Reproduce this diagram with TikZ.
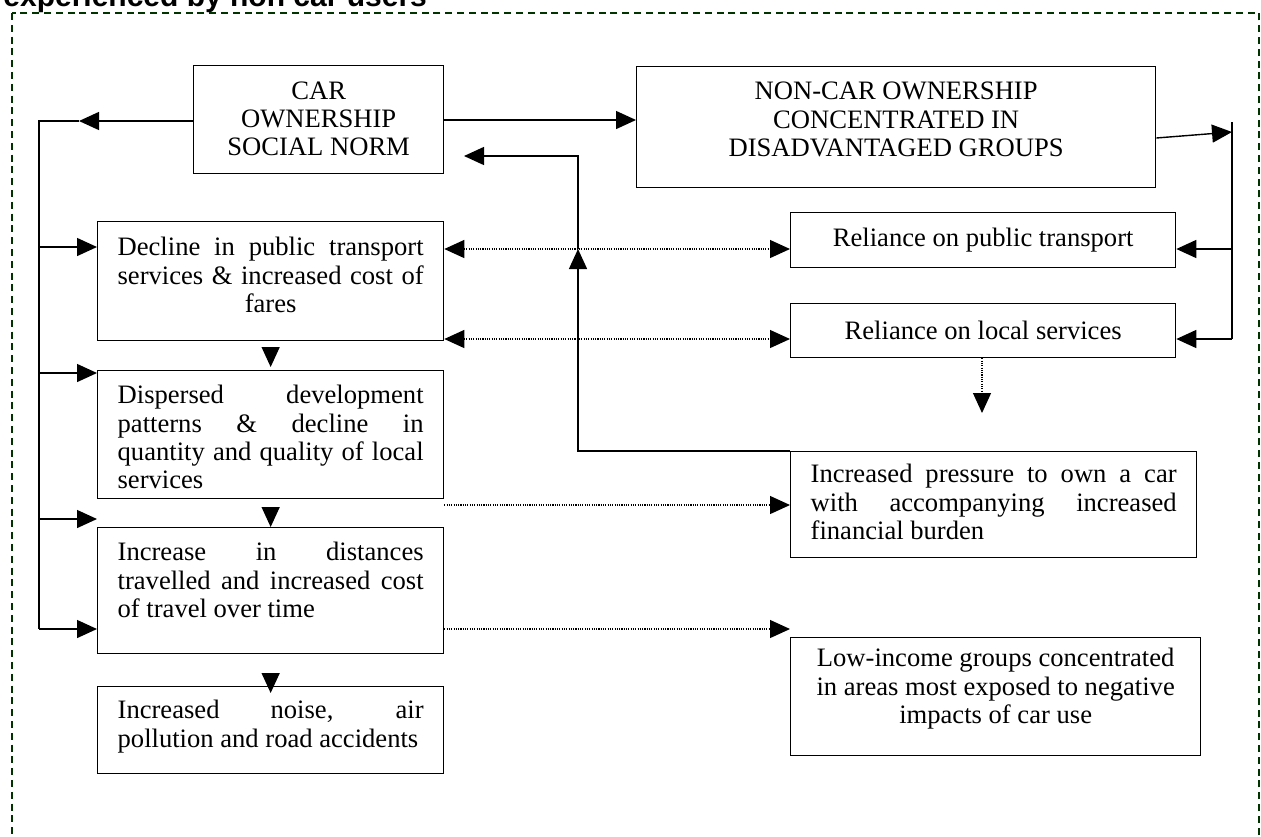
\documentclass[tikz,border=0pt]{standalone}
\usepackage{fontspec}
\setmainfont{Liberation Serif}
\newfontfamily\headfont{Liberation Sans}
\usetikzlibrary{arrows.meta}
\definecolor{framegreen}{HTML}{003300}

% box body: height, width, top gap, lines
\newcommand{\inbox}[4]{\parbox[c][#1][t]{#2}{\vspace*{#3}#4}}
\newcommand{\jline}[1]{\makebox[\linewidth][s]{\strut #1}\par}
\newcommand{\lline}[1]{\strut #1\par}
\newcommand{\ctr}[1]{\makebox[\linewidth][c]{\strut #1}\par}

\begin{document}
\begin{tikzpicture}[x=0.5pt,y=-0.5pt,
  every node/.style={font=\fontsize{13.3}{14.2}\selectfont},
  box/.style={draw, line width=0.65pt, inner ysep=0pt, inner xsep=10pt, anchor=north west},
  flatbox/.style={draw, line width=0.65pt, inner sep=0pt, anchor=north west},
  link/.style={line width=0.7pt},
  arr/.style={link, -{Triangle[length=10pt,width=9pt]}},
  dots/.style={line width=0.6pt, dash pattern=on 0.55pt off 0.6pt},
  darr/.style={dots, -{Triangle[length=10pt,width=9pt]}},
  dboth/.style={dots, {Triangle[length=10pt,width=9pt]}-{Triangle[length=10pt,width=9pt]}},
  frame/.style={draw=framegreen, line width=0.75pt, dash pattern=on 3.5pt off 2.4pt}
]
\clip (0,0) rectangle (1261,836);
\useasboundingbox (0,0) rectangle (1261,836);

% heading and dashed frame
\node[anchor=base west, inner sep=0pt, font=\headfont\bfseries\fontsize{15}{18}\selectfont] (title) at (3,6) {experienced by non car users};
\draw[frame] (12,13) rectangle (1259,880);

% top row
\node[box] (b1) at (193,65) {\inbox{54pt}{105pt}{6.8pt}{\ctr{CAR}\ctr{OWNERSHIP}\ctr{SOCIAL NORM}}};
\node[box] (b2) at (636,66) {\inbox{60.5pt}{239.5pt}{6.56pt}{\ctr{NON-CAR OWNERSHIP}\ctr{CONCENTRATED IN}\ctr{DISADVANTAGED GROUPS}}};

% right column
\node[flatbox, minimum width=192.5pt, minimum height=27.5pt] (b4) at (790,212) {Reliance on public transport};
\node[flatbox, minimum width=192.5pt, minimum height=27pt] (b5) at (790,303) {Reliance on local services};
\node[box] (b10) at (790,451) {\inbox{53pt}{183pt}{5.56pt}{\jline{Increased pressure to own a car}\jline{with accompanying increased}\lline{financial burden}}};
\node[box] (b11) at (790,637) {\inbox{59pt}{185pt}{4.56pt}{\ctr{Low-income groups concentrated}\ctr{in areas most exposed to negative}\ctr{impacts of car use}}};

% left column
\node[box] (b6) at (97,221) {\inbox{59.5pt}{153pt}{7.06pt}{\jline{Decline in public transport}\jline{services \& increased cost of}\ctr{fares}}};
\node[box] (b7) at (97,370) {\inbox{64pt}{153pt}{6.56pt}{\jline{Dispersed development}\jline{patterns \& decline in}\jline{quantity and quality of local}\lline{services}}};
\node[box] (b8) at (97,527) {\inbox{63pt}{153pt}{6.56pt}{\jline{Increase in distances}\jline{travelled and increased cost}\lline{of travel over time}}};
\node[box] (b9) at (97,686) {\inbox{43.5pt}{153pt}{6.06pt}{\jline{Increased noise, air}\lline{pollution and road accidents}}};

% left trunk
\coordinate (lt) at (39,121);
\coordinate (lb) at (39,629);
\coordinate (lh) at (79,121);
\draw[arr] (b1.west |- lh) -- (lh);
\draw[link] (lh) -- (lt) -- (lb);
\draw[arr] (lt |- 0,247) -- (b6.west |- 0,247);
\draw[arr] (lt |- 0,373) -- (b7.west |- 0,373);
\draw[arr] (lt |- 0,519) -- (b8.west |- 0,519);
\draw[arr] (lb) -- (b8.west |- lb);

% top link
\draw[arr] (b1.east |- 0,120) -- (b2.west |- 0,120);

% right trunk
\coordinate (rt) at (1232,122);
\coordinate (rb) at (1232,339);
\coordinate (rh) at (1232,132);
\draw[arr] (b2.east |- 0,138) -- (rh);
\draw[link] (rt) -- (rb);
\draw[arr] (rt |- 0,249) -- (b4.east |- 0,249);
\draw[arr] (rb) -- (b5.east |- rb);

% feedback to car ownership
\coordinate (mc) at (578,451);
\coordinate (mu) at (578,249);
\coordinate (mt) at (578,156);
\coordinate (mh) at (464,156);
\draw[arr] (b10.north west) -- (mc) -- (mu);
\draw[arr] (mu) -- (mt) -- (mh);

% dotted links
\draw[dboth] (b6.east |- 0,249) -- (b4.west |- 0,249);
\draw[dboth] (b6.east |- 0,339) -- (b5.west |- 0,339);
\draw[darr] (b7.east |- 0,505) -- (b10.west |- 0,505);
\coordinate (lowtip) at (790,629);
\draw[darr] (b8.east |- lowtip) -- (lowtip);
\coordinate (dv) at (982,413);
\draw[darr] (b5.south -| dv) -- (dv);

% chain down the left column
\draw[arr, shorten <=4.5pt, shorten >=1.5pt] (b6.south) -- (b7.north);
\draw[arr, shorten <=4.5pt] (b7.south) -- (b8.north);
\draw[arr, shorten <=10pt, shorten >=-3.5pt] (b8.south) -- (b9.north);
\end{tikzpicture}
\end{document}
